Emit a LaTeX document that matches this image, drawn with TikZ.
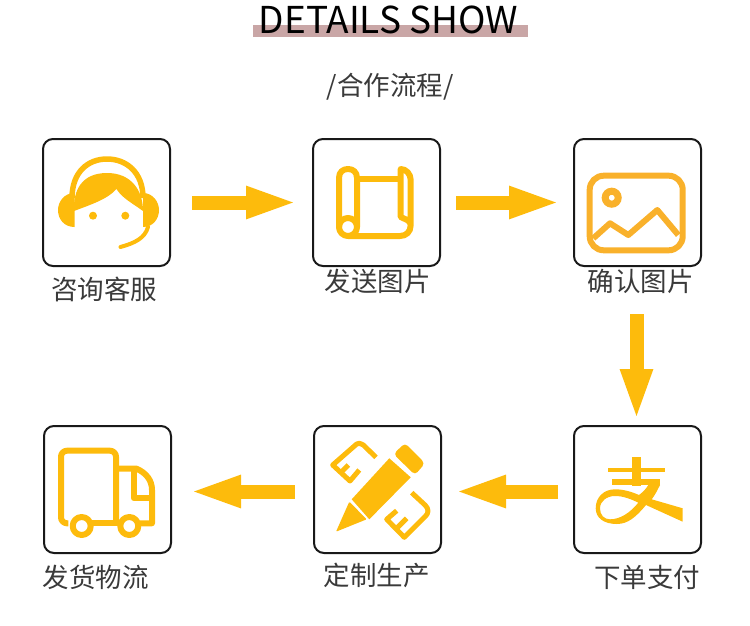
\documentclass[tikz,border=0pt]{standalone}
\usepackage{fontspec}
\usepackage{tikz}
\usetikzlibrary{positioning}
\usetikzlibrary{arrows.meta}
\newfontfamily\cjk{Noto Sans CJK SC}
\definecolor{flowyellow}{HTML}{FDBB0C}
\definecolor{picorange}{HTML}{F9B12B}
\definecolor{barpink}{HTML}{C9A6A6}
\definecolor{capgray}{HTML}{3A3A3A}
\tikzset{
    stepbox/.style={rectangle, draw=black!90, line width=2pt, rounded corners=10pt, outer sep=0pt, minimum width=127pt, minimum height=127pt},
    flow/.style={draw=flowyellow, line width=14pt, -{Triangle[length=52pt,width=29pt]}},
    caption/.style={inner sep=0pt, text=capgray, font=\cjk\fontsize{26.5}{27}\selectfont},
    iconline/.style={draw=flowyellow, line width=6pt, line join=round},
    iconfill/.style={fill=flowyellow}
}
\begin{document}
\begin{tikzpicture}[x=1pt,y=-1pt]
        \useasboundingbox (0,0) rectangle (750,626);
        \node (title bar) [rectangle, fill=barpink, inner sep=0pt, minimum width=275pt, minimum height=12pt] at (390.5,31) {};
        \node (title) [inner sep=0pt, font=\cjk\fontsize{37}{37}\selectfont, text=black] at (388.5,20) {DETAILS SHOW};
        \node (subtitle) [caption] at (390,87) {/合作流程/};
        \node (consult) [stepbox] at (106.5,202.5) {};
        \node (send pic) [stepbox, right=143pt of consult] {};
        \node (confirm pic) [stepbox, right=134pt of send pic] {};
        \node (pay) [stepbox, below=160pt of confirm pic] {};
        \node (produce) [stepbox, left=133pt of pay] {};
        \node (ship) [stepbox, left=143pt of produce] {};
        \node (consult label) [caption, below=11pt of consult, xshift=-2.5pt] {咨询客服};
        \node (send label) [caption, below=3pt of send pic, xshift=1pt] {发送图片};
        \node (confirm label) [caption, below=3pt of confirm pic, xshift=3pt] {确认图片};
        \node (pay label) [caption, below=12pt of pay, xshift=9.5pt] {下单支付};
        \node (produce label) [caption, below=10pt of produce, xshift=-1pt] {定制生产};
        \node (ship label) [caption, below=12pt of ship, xshift=-12pt] {发货物流};
        \draw [flow, shorten <=22pt, shorten >=15pt] (consult) -- (send pic);
        \draw [flow, shorten <=16pt, shorten >=13pt] (send pic) -- (confirm pic);
        \draw [flow, shorten <=48pt, shorten >=5pt] ([xshift=-1pt]confirm pic.south) -- ([xshift=-1pt]pay.north);
        \draw [flow, shorten <=16pt, shorten >=13pt] ([yshift=-2pt]pay.west) -- ([yshift=-2pt]produce.east);
        \draw [flow, shorten <=19pt, shorten >=18pt] ([yshift=-2pt]produce.west) -- ([yshift=-2pt]ship.east);
        % headset
        \draw [iconline, line width=5.5pt] (72,198) .. controls (72,172) and (88,159) .. (107,159) .. controls (126,159) and (143,172) .. (143,198);
        \fill [iconfill] (74.5,193) .. controls (64,193) and (58,202) .. (58,210) .. controls (58,219) and (64,227) .. (74.5,227) -- cycle;
        \fill [iconfill] (143,193) .. controls (153,193) and (159,202) .. (159,210) .. controls (159,219) and (153,227) .. (143,227) -- cycle;
        \fill [iconfill] (74,211) .. controls (73,190) and (82,173) .. (107,173) .. controls (131,173) and (143,190) .. (143,211) .. controls (132,203) and (122,198) .. (116.5,189) .. controls (108,199) and (90,205) .. (74,211) -- cycle;
        \fill [iconfill] (93,215.7) circle (4) (125.3,215.7) circle (4);
        \draw [iconline, line width=4pt, line cap=round] (148,227) .. controls (145,238) and (135,243) .. (120.5,247);
        % scroll
        \draw [iconline] (339,227) -- (339,178) .. controls (339,172) and (343,169) .. (348,169) .. controls (353,169) and (357,172) .. (357,178) -- (357,227);
        \draw [iconline] (348,227) circle (9);
        \draw [iconline] (348,236) -- (400,236) .. controls (406,236) and (410.7,232) .. (410.7,225) -- (410.7,180) .. controls (410.7,174) and (406,169) .. (400.7,169) -- (400.7,217) .. controls (404,219) and (410.7,220) .. (410.7,225);
        \draw [iconline] (357,178.7) -- (400.7,178.7);
        % picture
        \draw [iconline, draw=picorange, rounded corners=14pt] (589.7,175.7) rectangle (682.7,250.3);
        \draw [draw=picorange, line width=7pt] (611.7,197.7) circle (6.5);
        \draw [iconline, draw=picorange] (593.3,238.3) -- (610,223.3) -- (628.3,235) -- (657.3,210) -- (678.3,235);
        % pay sign
        \fill [iconfill] (631.7,457.3) rectangle (641,486);
        \fill [iconfill] (607.7,467.7) rectangle (665,472.3);
        \fill [iconfill] (612.3,479.3) rectangle (660,485);
        \fill [iconfill, even odd rule] (660,485) .. controls (657,491) and (655,495) .. (651.7,499.3) -- (682.7,508.3) -- (682.7,521.7) -- (646,505) .. controls (636,517) and (628,524) .. (616.7,524) .. controls (604,524) and (595.7,518) .. (595.7,508.3) .. controls (595.7,497) and (604,489.3) .. (615,489.3) .. controls (624,489.3) and (632,492) .. (639,495) .. controls (643,492) and (646,489) .. (648.3,485) -- cycle
            (600,508.3) .. controls (600,501) and (607,496) .. (615,496) .. controls (623,496) and (631,499) .. (638.3,502.7) .. controls (630,513) and (620,519.3) .. (610,519.3) .. controls (604,519.3) and (600,515) .. (600,508.3) -- cycle;
        % pencil and rulers
        \fill [iconfill] (389.3,458.3) -- (410.7,477.3) -- (369.3,519.3) -- (351.7,499.3) -- cycle;
        \fill [iconfill, rounded corners=4pt] (405,443) -- (393.5,454) -- (415,475) -- (425,463.3) -- cycle;
        \fill [iconfill, rounded corners=1pt] (349.3,501.7) -- (366.7,519.3) -- (336,531.7) -- cycle;
        \draw [iconline, line width=5pt] (376,457.3) -- (363.3,445) .. controls (360,443) and (358,443) .. (356.7,444) -- (332.7,465) -- (350,481) -- (359.3,470);
        \draw [iconline, line width=5pt] (340.7,472.7) -- (348.3,465);
        \draw [iconline, line width=5pt] (411.7,492.7) -- (425,505) .. controls (429,509) and (429,513) .. (425,516.7) -- (404.3,537.3) -- (386.7,519.3) -- (396.7,510.7);
        \draw [iconline, line width=5pt] (396.7,528.3) -- (406.7,518.3);
        % truck
        \draw [iconline, rounded corners=6pt] (68.3,523.3) -- (61,523.3) -- (61,450.7) -- (116,450.7) -- (116,523.3);
        \draw [iconline] (91.7,523.3) -- (120,523.3);
        \draw [iconline] (116,468.7) -- (136.7,468.7) .. controls (146,473) and (152,480) .. (152,490) -- (152,523.3) -- (140,523.3);
        \draw [iconline] (134,468.7) -- (134,498.3) -- (152,498.3);
        \draw [iconline] (81.7,526) circle (9) (129.3,526) circle (9);
    \end{tikzpicture}
\end{document}
